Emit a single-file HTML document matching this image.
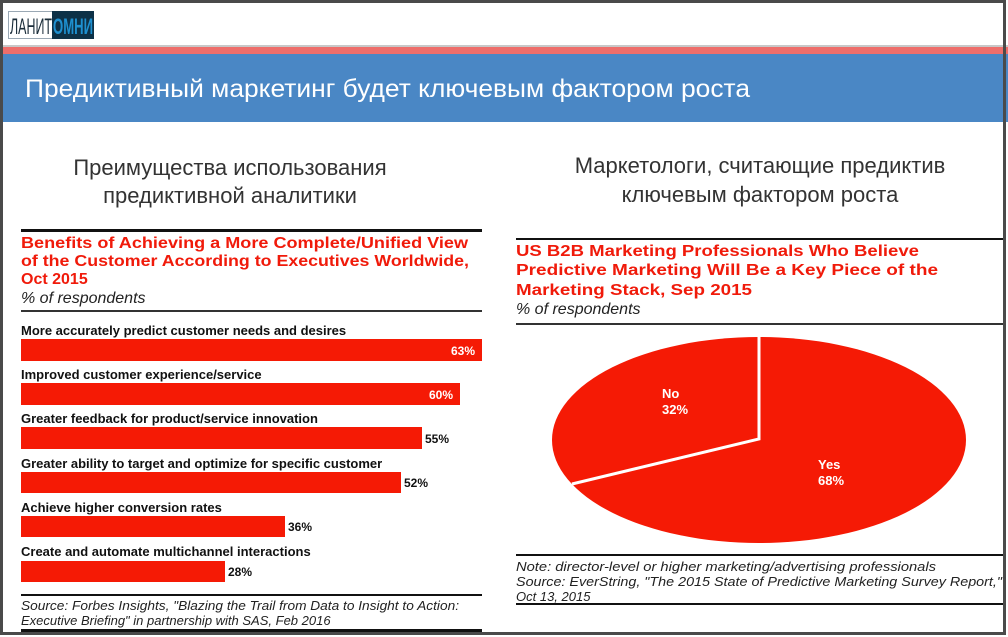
<!DOCTYPE html>
<html><head><meta charset="utf-8"><style>
body{margin:0;width:1008px;height:637px;overflow:hidden;background:#fff;font-family:"Liberation Sans",sans-serif;}
</style></head><body>
<svg width="1008" height="637" style="position:absolute;left:0;top:0" font-family="Liberation Sans, sans-serif">
<rect x="0" y="0" width="1008" height="637" fill="#fff"/>
<!-- logo -->
<rect x="8.5" y="11.5" width="44" height="27" fill="#fff" stroke="#9aa8b4"/>
<text x="10" y="34" font-size="22" fill="#1b2d3a" textLength="42" lengthAdjust="spacingAndGlyphs">ЛАНИТ</text>
<rect x="52" y="11" width="42" height="28" fill="#0d3147"/>
<text x="53" y="34" font-size="22" font-weight="bold" fill="#1e90d0" textLength="40" lengthAdjust="spacingAndGlyphs">ОМНИ</text>
<!-- bands -->
<rect x="0" y="45" width="1008" height="2" fill="#c8c8c8"/>
<rect x="0" y="47" width="1008" height="7" fill="#ee6e6b"/>
<rect x="0" y="54" width="1008" height="68" fill="#4a87c5"/>
<text x="25" y="97" font-size="25" fill="#fff" textLength="725" lengthAdjust="spacingAndGlyphs">Предиктивный маркетинг будет ключевым фактором роста</text>
<!-- subtitles -->
<g font-size="22" fill="#333" text-anchor="middle">
<text x="230" y="175">Преимущества использования</text>
<text x="230" y="203">предиктивной аналитики</text>
<text x="760" y="173">Маркетологи, считающие предиктив</text>
<text x="760" y="202">ключевым фактором роста</text>
</g>
<!-- left chart -->
<rect x="21" y="229" width="461" height="3" fill="#111"/>
<g font-size="16" font-weight="bold" fill="#f01a0a">
<text x="21" y="248" textLength="447" lengthAdjust="spacingAndGlyphs">Benefits of Achieving a More Complete/Unified View</text>
<text x="21" y="266" textLength="448" lengthAdjust="spacingAndGlyphs">of the Customer According to Executives Worldwide,</text>
<text x="21" y="284">Oct 2015</text>
</g>
<text x="21" y="303" font-size="16" font-style="italic" fill="#222">% of respondents</text>
<rect x="21" y="310" width="461" height="2" fill="#333"/>
<g font-size="13" font-weight="bold" fill="#111">
<text x="21" y="335">More accurately predict customer needs and desires</text>
<text x="21" y="379">Improved customer experience/service</text>
<text x="21" y="423">Greater feedback for product/service innovation</text>
<text x="21" y="468">Greater ability to target and optimize for specific customer</text>
<text x="21" y="512">Achieve higher conversion rates</text>
<text x="21" y="556">Create and automate multichannel interactions</text>
</g>
<g fill="#f51a05">
<rect x="21" y="339" width="461" height="22"/>
<rect x="21" y="383" width="439" height="22"/>
<rect x="21" y="427" width="401" height="22"/>
<rect x="21" y="472" width="380" height="21"/>
<rect x="21" y="516" width="264" height="21"/>
<rect x="21" y="561" width="204" height="21"/>
</g>
<g font-size="12" font-weight="bold">
<text x="475" y="355" fill="#fff" text-anchor="end">63%</text>
<text x="453" y="399" fill="#fff" text-anchor="end">60%</text>
<text x="425" y="443" fill="#111">55%</text>
<text x="404" y="487" fill="#111">52%</text>
<text x="288" y="531" fill="#111">36%</text>
<text x="228" y="576" fill="#111">28%</text>
</g>
<rect x="21" y="594" width="461" height="2" fill="#111"/>
<g font-size="13" font-style="italic" fill="#222">
<text x="21" y="610" textLength="438" lengthAdjust="spacingAndGlyphs">Source: Forbes Insights, "Blazing the Trail from Data to Insight to Action:</text>
<text x="21" y="625">Executive Briefing" in partnership with SAS, Feb 2016</text>
</g>
<rect x="21" y="629" width="461" height="4" fill="#111"/>
<!-- right chart -->
<rect x="516" y="238" width="487" height="2" fill="#111"/>
<g font-size="16" font-weight="bold" fill="#f01a0a">
<text x="516" y="256" textLength="403" lengthAdjust="spacingAndGlyphs">US B2B Marketing Professionals Who Believe</text>
<text x="516" y="275" textLength="422" lengthAdjust="spacingAndGlyphs">Predictive Marketing Will Be a Key Piece of the</text>
<text x="516" y="295" textLength="236" lengthAdjust="spacingAndGlyphs">Marketing Stack, Sep 2015</text>
</g>
<text x="516" y="314" font-size="16" font-style="italic" fill="#222">% of respondents</text>
<rect x="516" y="323" width="487" height="2" fill="#333"/>
<ellipse cx="759" cy="440" rx="207" ry="103" fill="#f51a05"/>
<polyline points="759,337 759,439 572,484" fill="none" stroke="#fff" stroke-width="3"/>
<g font-size="13" font-weight="bold" fill="#fff">
<text x="662" y="398">No</text><text x="662" y="414">32%</text>
<text x="818" y="469">Yes</text><text x="818" y="485">68%</text>
</g>
<rect x="516" y="554" width="487" height="2" fill="#111"/>
<g font-size="13" font-style="italic" fill="#222">
<text x="516" y="571" textLength="420" lengthAdjust="spacingAndGlyphs">Note: director-level or higher marketing/advertising professionals</text>
<text x="516" y="586" textLength="486" lengthAdjust="spacingAndGlyphs">Source: EverString, "The 2015 State of Predictive Marketing Survey Report,"</text>
<text x="516" y="601">Oct 13, 2015</text>
</g>
<rect x="516" y="603" width="487" height="2" fill="#111"/>
<!-- frame -->
<rect x="1.5" y="1.5" width="1003" height="632" fill="none" stroke="#4a4a4a" stroke-width="3"/>
</svg>
</body></html>
